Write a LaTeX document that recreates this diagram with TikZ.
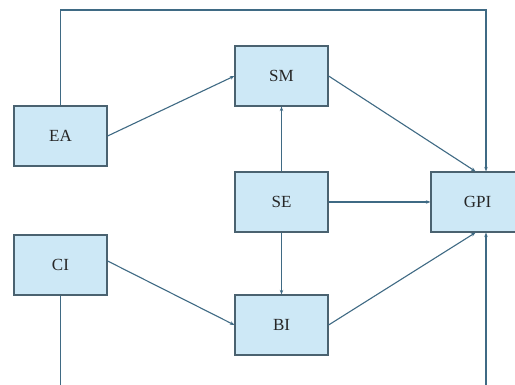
\documentclass[tikz,border=0pt]{standalone}
\usepackage{fontspec}
\setmainfont{Liberation Serif}
\usetikzlibrary{arrows.meta,calc}
\definecolor{boxfill}{HTML}{CDE8F6}
\definecolor{boxline}{HTML}{4A6270}
\definecolor{conn}{HTML}{3F6A84}
\tikzset{
  blk/.style={draw=boxline, line width=1.2pt, fill=boxfill, minimum width=93pt, minimum height=60pt, inner sep=0pt, font=\fontsize{17}{19}\selectfont, text=black!85},
  arr/.style={draw=conn, line width=1.1pt, -{Stealth[length=4.5pt,width=3.5pt]}},
  ln/.style={draw=conn, line width=1.1pt}
}
\begin{document}
\begin{tikzpicture}[x=1pt,y=1pt]
\useasboundingbox (0,0) rectangle (515,385);
\clip (0,0) rectangle (515,385);
\fill[white] (0,0) rectangle (515,385);
\node[blk] (EA) at (60.5,249) {EA};
\node[blk] (CI) at (60.5,120) {CI};
\node[blk] (SM) at (281.5,309) {SM};
\node[blk] (SE) at (281.5,183) {SE};
\node[blk] (BI) at (281.5,60) {BI};
\node[blk] (GPI) at (477.5,183) {GPI};
\coordinate (tr) at (486,375);
\coordinate (bl) at (60.5,-5);
\coordinate (br) at (486,-5);
\draw[arr] (EA.north) |- (tr) -- (tr |- GPI.north);
\draw[ln] (CI.south) -- (CI.south |- bl);
\draw[arr] (br) -- (br |- GPI.south);
\draw[arr] (EA.east) -- (SM.west);
\draw[arr] (SM.east) -- ($(GPI.north)+(-2,0)$);
\draw[arr] (SE.north) -- (SM.south);
\draw[arr] (SE.south) -- (BI.north);
\draw[arr] (SE.east) -- (GPI.west);
\draw[arr] ($(CI.east)+(0,4)$) -- (BI.west);
\draw[arr] (BI.east) -- ($(GPI.south)+(-2,0)$);
\end{tikzpicture}
\end{document}
